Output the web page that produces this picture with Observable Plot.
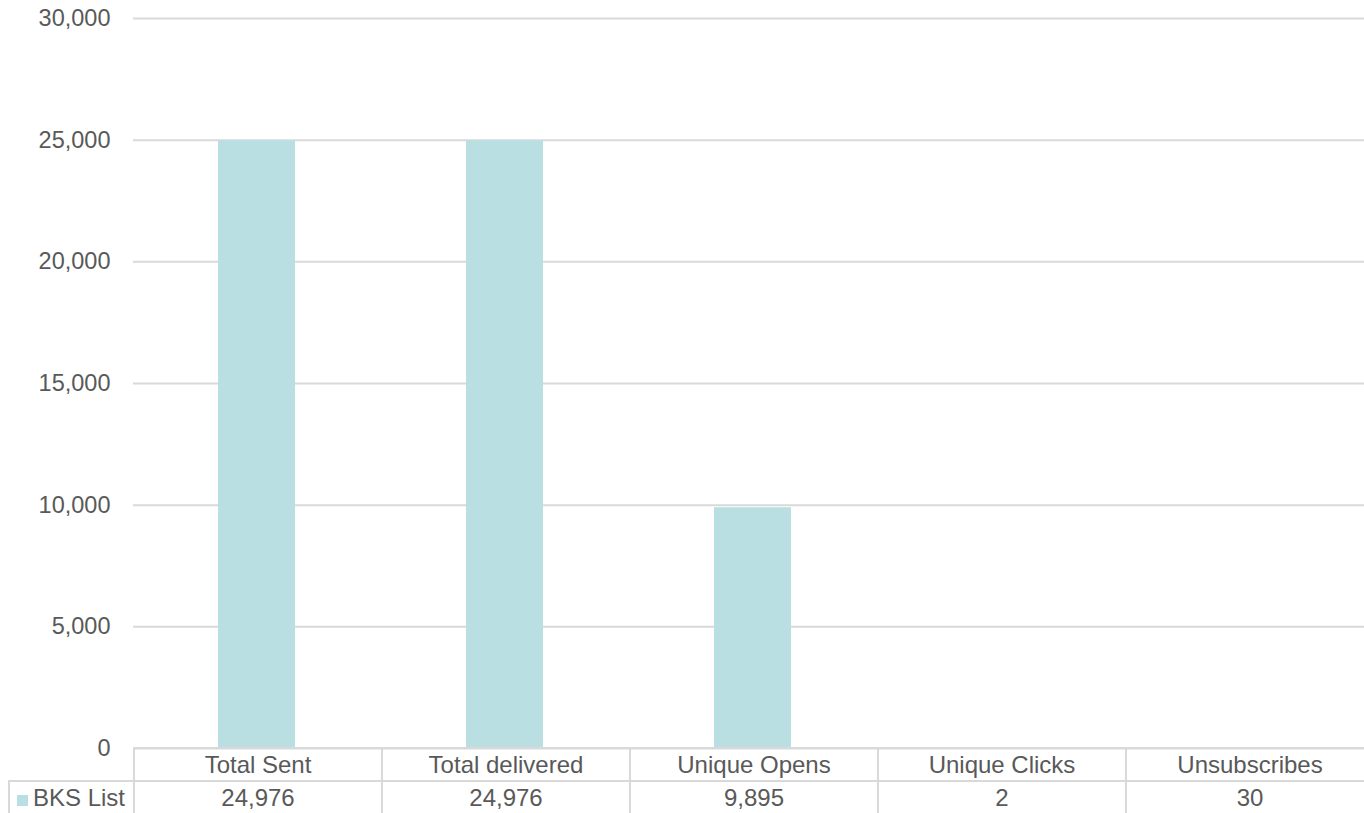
<!DOCTYPE html>
<html><head><meta charset="utf-8">
<script src="https://cdn.jsdelivr.net/npm/d3@7"></script>
<script src="https://cdn.jsdelivr.net/npm/@observablehq/plot@0.6"></script>
<style>
body{margin:0;background:#fff;font-family:"Liberation Sans",Arial,sans-serif;}
#wrap{position:relative;width:1364px;height:813px;overflow:hidden;background:#fff;}
#chart{position:absolute;left:0;top:0;width:1373px;}
#chart svg{max-width:none !important;}
#tbl{position:absolute;left:8px;top:747px;border-collapse:collapse;table-layout:fixed;font-size:24px;color:#595959;}
#tbl td{border:2px solid #d9d9d9;text-align:center;padding:0;white-space:nowrap;line-height:1;overflow:hidden;}
#tbl tr.r1 td{height:31px;}
#tbl tr.r2 td{height:31px;}
#tbl td.empty{border-left:none;border-top:none;border-bottom-color:#d9d9d9;}
#tbl td.legend{text-align:left;padding-left:7px;}
.key{display:inline-block;width:11px;height:11px;margin-right:5px;vertical-align:0px;}
</style></head>
<body><div id="wrap"><div id="chart"></div></div>
<script>
const categories = ["Total Sent", "Total delivered", "Unique Opens", "Unique Clicks", "Unsubscribes"];
const values = [24976, 24976, 9895, 2, 30];
const seriesName = "BKS List";
const yTicks = [0, 5000, 10000, 15000, 20000, 25000, 30000];
const barColor = "#b9dfe2";
const fmt = d3.format(",");

const data = categories.map((c, i) => ({category: c, value: values[i]}));

const W = 1373; // plot area runs slightly past the visible edge
const chart = Plot.plot({
  width: W,
  height: 749,
  marginTop: 18,
  marginBottom: 1,
  marginLeft: 133,
  marginRight: 0,
  style: {fontFamily: "'Liberation Sans', Arial, sans-serif", fontSize: "23.5px", color: "#595959", overflow: "visible", background: "transparent", maxWidth: "none"},
  x: {domain: categories, paddingInner: 0.688, paddingOuter: 0.344, axis: null},
  y: {domain: [0, 30000], label: null},
  marks: [
    Plot.gridY(yTicks, {stroke: "#d9d9d9", strokeOpacity: 1, strokeWidth: 2}),
    Plot.axisY(yTicks, {tickSize: 0, tickPadding: 23, tickFormat: fmt, fill: "#595959", fontSize: 23.5, label: null}),
    Plot.barY(data, {x: "category", y: "value", fill: barColor})
  ]
});
chart.style.maxWidth = "none";
document.getElementById("chart").appendChild(chart);

// data table below the chart
const legendW = 125;
const colW = (W - 133) / categories.length;
const table = d3.select("#wrap").append("table").attr("id", "tbl")
  .style("width", (legendW + colW * categories.length) + "px");
const cg = table.append("colgroup");
cg.append("col").style("width", legendW + "px");
categories.forEach(() => cg.append("col").style("width", colW + "px"));
const r1 = table.append("tr").attr("class", "r1");
r1.append("td").attr("class", "empty");
categories.forEach(c => r1.append("td").text(c));
const r2 = table.append("tr").attr("class", "r2");
const lg = r2.append("td").attr("class", "legend");
lg.append("span").attr("class", "key").style("background", barColor);
lg.append("span").text(seriesName);
values.forEach(v => r2.append("td").text(fmt(v)));
</script>
</body></html>
